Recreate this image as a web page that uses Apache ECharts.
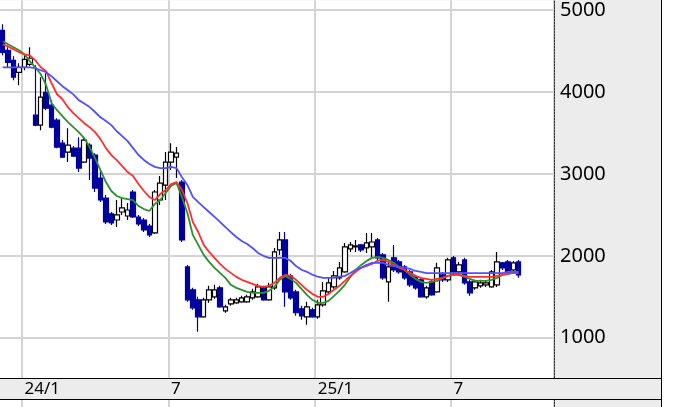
<!DOCTYPE html>
<html><head><meta charset="utf-8">
<script src="https://cdn.jsdelivr.net/npm/echarts@6/dist/echarts.min.js"></script>
<style>html,body{margin:0;padding:0;background:#fff}#c{width:693px;height:407px}</style>
</head><body><div id="c"></div>
<script>
// weekly categories (102 slots, data fills first 96)
const weeks = [];
(function(){ const d0 = new Date(Date.UTC(2023,11,4)); for (let i=0;i<102;i++){ const d=new Date(d0.getTime()+i*7*86400000); weeks.push(d.toISOString().slice(0,10)); } })();
const tickIndex = [4, 31, 58, 83];
const tickText = ['24/1', '7', '25/1', '7'];
const yTicks = [1000, 2000, 3000, 4000, 5000];

const open = [4752,4508,4386,4240,4301,4337,3716,3595,3996,3838,
3655,3375,3266,3314,3314,3144,3351,3229,2949,2705,
2511,2437,2535,2486,2779,2474,2437,2364,2279,2681,
2864,3144,3205,2900,1865,1585,1463,1256,1463,1500,
1609,1329,1414,1426,1439,1439,1487,1500,1609,1463,
1609,2072,2194,1755,1560,1353,1256,1341,1256,1402,
1560,1621,1731,1804,2084,2109,2133,2096,2109,2194,
2011,1682,1975,1926,1865,1804,1743,1707,1500,1682,
1560,1767,1707,1975,1804,1950,1682,1609,1634,1646,
1621,1646,1914,1926,1828,1926];
const close = [4484,4362,4179,4301,4398,4411,3595,3936,3802,3570,
3327,3205,3351,3217,3071,3412,3193,2827,2681,2413,
2401,2499,2584,2559,2474,2389,2316,2255,2779,2888,
3144,3266,3253,2194,1463,1366,1256,1463,1585,1585,
1378,1378,1463,1463,1487,1500,1560,1621,1463,1621,
2048,2194,1560,1487,1305,1268,1378,1256,1402,1573,
1670,1755,1853,2109,2133,2121,2072,2157,2169,1975,
1731,1865,1828,1804,1731,1646,1609,1500,1609,1524,
1853,1707,1950,1804,1889,1670,1548,1682,1670,1670,
1804,1926,1853,1792,1914,1767];
const low = [4447,4301,4143,4082,4264,4313,3582,3534,3777,3558,
3314,3193,3144,3205,3022,3132,2925,2779,2657,2389,
2376,2352,2499,2437,2462,2364,2291,2230,2267,2620,
2681,3046,2949,2169,1439,1341,1073,1244,1426,1475,
1366,1305,1390,1414,1426,1426,1463,1487,1451,1451,
1585,2011,1378,1463,1268,1219,1158,1244,1232,1378,
1536,1597,1707,1792,2048,2048,2048,2036,1975,1950,
1707,1439,1804,1780,1707,1621,1585,1487,1475,1512,
1548,1682,1682,1780,1780,1646,1512,1585,1609,1621,
1609,1621,1828,1767,1804,1731];
const high = [4825,4545,4435,4350,4447,4545,4325,4179,4228,3899,
3680,3412,3558,3339,3448,3436,3375,3253,3046,2742,
2535,2681,2718,2644,2803,2499,2462,2389,2803,2973,
3266,3375,3327,2925,1889,1609,1500,1487,1634,1646,
1634,1402,1487,1487,1512,1524,1597,1658,1634,1670,
2096,2291,2291,1780,1585,1390,1439,1366,1463,1682,
1743,1816,1926,2157,2169,2194,2145,2279,2279,2218,
2036,1926,2133,1950,1889,1828,1767,1731,1634,1707,
1914,1804,1975,1999,1926,1975,1707,1707,1707,1694,
1828,2048,1926,1950,1938,1950];
const maShort = [4618,4581,4545,4508,4459,4374,4301,4216,4082,3862,
3777,3704,3631,3570,3509,3436,3327,3193,3046,2900,
2791,2730,2705,2693,2681,2608,2571,2547,2632,2681,
2766,2852,2888,2718,2523,2255,2133,2011,1926,1853,
1792,1731,1646,1609,1585,1560,1548,1548,1548,1573,
1621,1707,1755,1719,1670,1597,1524,1463,1426,1426,
1451,1512,1573,1646,1743,1828,1889,1938,1975,1987,
1975,1950,1914,1865,1828,1767,1719,1682,1670,1682,
1694,1731,1755,1767,1767,1743,1719,1694,1694,1694,
1707,1731,1767,1780,1792,1792];
const maMid = [4580,4555,4520,4484,4459,4447,4386,4301,4252,4106,
3972,3911,3814,3741,3680,3619,3570,3509,3424,3314,
3229,3168,3095,3022,2973,2876,2791,2718,2681,2754,
2803,2876,2900,2803,2644,2413,2291,2133,2048,1975,
1901,1841,1792,1743,1707,1682,1658,1634,1621,1634,
1670,1731,1767,1755,1707,1646,1585,1536,1500,1500,
1536,1585,1634,1694,1755,1804,1853,1877,1901,1938,
1950,1926,1889,1853,1828,1792,1755,1731,1719,1707,
1719,1731,1755,1767,1767,1755,1743,1743,1743,1743,
1743,1755,1767,1780,1792,1792];
const maLong = [4300,4300,4300,4300,4300,4300,4290,4265,4240,4190,
4130,4070,4020,3970,3900,3860,3815,3755,3690,3645,
3595,3520,3460,3400,3315,3230,3170,3120,3085,3070,
3070,3085,3070,2960,2865,2720,2655,2595,2535,2475,
2415,2350,2290,2230,2180,2145,2095,2035,2000,1975,
1975,1975,1975,1940,1875,1830,1805,1770,1745,1730,
1730,1730,1745,1755,1790,1830,1855,1890,1915,1915,
1915,1890,1875,1865,1855,1840,1815,1805,1790,1790,
1790,1790,1790,1790,1790,1790,1790,1790,1790,1790,
1790,1790,1790,1805,1805,1805];

const candles = open.map((o,i)=>[o, close[i], low[i], high[i]]);
const isTick = (i)=> tickIndex.indexOf(i) >= 0;
const FONT = 'Noto Sans';
const GRID_C = '#d4d4d4';

const chart = echarts.init(document.getElementById('c'), null, {renderer:'canvas'});
chart.setOption({
  animation: false,
  backgroundColor: '#ececec',
  grid: [
    {left:0, top:0, width:554, height:378, show:true, backgroundColor:'#ffffff', borderWidth:0},
    {left:0, top:377, width:554, height:1, show:false},
    {left:0, top:400, width:554, height:100, show:true, backgroundColor:'#ffffff', borderWidth:0}
  ],
  xAxis: [
    {type:'category', gridIndex:0, data:weeks, boundaryGap:true,
     axisLine:{show:false}, axisTick:{show:false}, axisLabel:{show:false},
     splitLine:{show:true, interval:(i)=>isTick(i), lineStyle:{color:GRID_C, width:2}}},
    {type:'category', gridIndex:1, data:weeks, boundaryGap:true, position:'bottom',
     axisLine:{show:false}, axisTick:{show:false}, splitLine:{show:false},
     axisLabel:{show:true, interval:(i)=>isTick(i), formatter:(v,i)=>tickText[tickIndex.indexOf(i)] || '',
       align:'left', verticalAlign:'top', margin:3, color:'#000', fontFamily:FONT, fontSize:17}},
    {type:'category', gridIndex:2, data:weeks, boundaryGap:true,
     axisLine:{show:false}, axisTick:{show:false}, axisLabel:{show:false},
     splitLine:{show:true, interval:(i)=>isTick(i), lineStyle:{color:GRID_C, width:2}}}
  ],
  yAxis: [
    {type:'value', gridIndex:0, position:'right', min:509, max:5118, splitNumber:5, scale:true,
     axisLine:{show:true, lineStyle:{color:'#333', width:1, type:[2,1]}},
     axisTick:{show:false},
     axisLabel:{show:true, color:'#000', fontFamily:FONT, fontSize:20, margin:6, showMinLabel:false, showMaxLabel:false,
       formatter:(v)=> yTicks.indexOf(v) >= 0 ? String(v) : ''},
     splitLine:{show:true, showMinLine:false, showMaxLine:false, lineStyle:{color:GRID_C, width:2}}},
    {type:'value', gridIndex:1, show:false},
    {type:'value', gridIndex:2, position:'right', min:0, max:1,
     axisLine:{show:true, lineStyle:{color:'#333', width:1, type:[2,1]}},
     axisTick:{show:false}, axisLabel:{show:false}, splitLine:{show:false}}
  ],
  series: [
    {type:'candlestick', xAxisIndex:0, yAxisIndex:0, data:candles, barWidth:5, z:2,
     itemStyle:{color:'#ffffff', color0:'#00009c', borderColor:'#000000', borderColor0:'#00009c', borderWidth:1.2}},
    {type:'line', xAxisIndex:0, yAxisIndex:0, data:maShort, showSymbol:false, z:3,
     lineStyle:{color:'#2f8f2f', width:1.8}},
    {type:'line', xAxisIndex:0, yAxisIndex:0, data:maMid, showSymbol:false, z:3,
     lineStyle:{color:'#ff2f2f', width:1.8}},
    {type:'line', xAxisIndex:0, yAxisIndex:0, data:maLong, showSymbol:false, z:3,
     lineStyle:{color:'#5050ff', width:1.8}}
  ],
  graphic: [
    {type:'rect', left:662, top:0, shape:{x:0,y:0,width:31,height:407}, style:{fill:'#ffffff'}, z:10},
    {type:'line', shape:{x1:661.5, y1:0, x2:661.5, y2:407}, style:{stroke:'#000', lineWidth:1}, z:10},
    {type:'line', shape:{x1:0, y1:378.5, x2:661, y2:378.5}, style:{stroke:'#000', lineWidth:1}, z:10},
    {type:'line', shape:{x1:0, y1:399.5, x2:661, y2:399.5}, style:{stroke:'#000', lineWidth:1}, z:10}
  ]
});
</script>
</body></html>
